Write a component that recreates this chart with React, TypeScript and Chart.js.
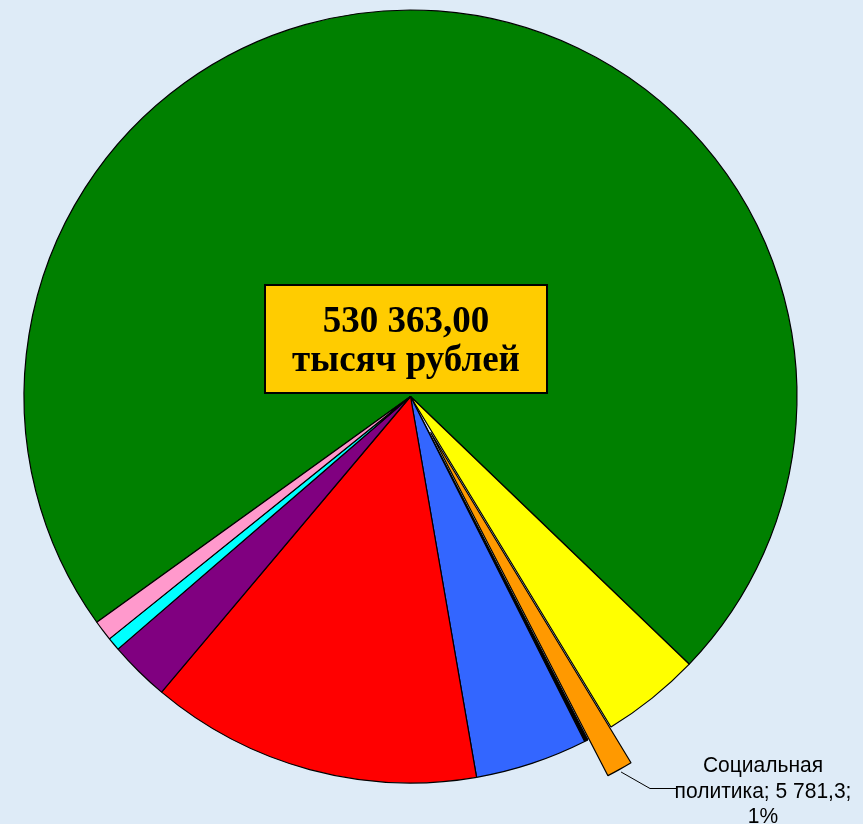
import React, { useEffect, useRef } from "react";
import { Chart, registerables } from "chart.js";

Chart.register(...registerables);

const categories = [
  "Образование",
  "Общегосударственные вопросы",
  "Социальная политика",
  "Средства массовой информации",
  "Национальная экономика",
  "Жилищно-коммунальное хозяйство",
  "Культура",
  "Национальная безопасность",
  "Физическая культура и спорт",
];
const values = [382417, 21981, 5781.3, 795, 24948, 73572, 13401, 2913, 4555];
const colors = ["#008000", "#FFFF00", "#FF9900", "#000000", "#3366FF", "#FF0000", "#800080", "#00FFFF", "#FF99CC"];
const explode = [0, 0, 41, 0, 0, 0, 0, 0, 0];
const totalLines = ["530 363,00", "тысяч рублей"];
const labelLines = ["Социальная", "политика; 5 781,3;", "1%"];
const labelIndex = 2;

const BG = "#DEEBF7";

const explodePlugin = {
  id: "explode",
  afterDatasetUpdate(chart: any, args: any) {
    const meta = chart.getDatasetMeta(args.index);
    meta.data.forEach((arc: any, i: number) => {
      const e = explode[i] || 0;
      if (!e) return;
      const mid = (arc.startAngle + arc.endAngle) / 2;
      arc.x += Math.cos(mid) * e;
      arc.y += Math.sin(mid) * e;
    });
  },
};

const overlayPlugin = {
  id: "overlay",
  afterDatasetsDraw(chart: any) {
    const ctx = chart.ctx as CanvasRenderingContext2D;
    const meta = chart.getDatasetMeta(0);
    const arc = meta.data[labelIndex] as any;

    // Center total box
    ctx.save();
    const bx = 265, by = 285, bw = 282, bh = 108;
    ctx.fillStyle = "#FFCC00";
    ctx.fillRect(bx, by, bw, bh);
    ctx.lineWidth = 2;
    ctx.strokeStyle = "#000000";
    ctx.strokeRect(bx, by, bw, bh);
    ctx.fillStyle = "#000000";
    ctx.font = "bold 37px 'Liberation Serif', 'Times New Roman', serif";
    ctx.textAlign = "center";
    ctx.textBaseline = "alphabetic";
    ctx.fillText(totalLines[0], bx + bw / 2, 332);
    ctx.fillText(totalLines[1], bx + bw / 2, 371);
    ctx.restore();

    // Leader line for label
    const mid = (arc.startAngle + arc.endAngle) / 2;
    const dist = arc.outerRadius + 3;
    const sx = arc.x + Math.cos(mid) * dist;
    const sy = arc.y + Math.sin(mid) * dist;
    ctx.save();
    ctx.strokeStyle = "#000000";
    ctx.lineWidth = 1;
    ctx.beginPath();
    ctx.moveTo(sx, sy);
    ctx.lineTo(650, 788.5);
    ctx.lineTo(676, 788.5);
    ctx.stroke();

    ctx.fillStyle = "#000000";
    ctx.font = "22px 'Liberation Sans', Arial, sans-serif";
    ctx.textAlign = "center";
    ctx.textBaseline = "alphabetic";
    const lx = 763;
    const sc = 0.955;
    ctx.translate(lx, 0);
    ctx.scale(sc, 1);
    ctx.fillText(labelLines[0], 0, 772);
    ctx.fillText(labelLines[1], 0, 798);
    ctx.fillText(labelLines[2], 0, 823);
    ctx.restore();
  },
};

export default function App() {
  const ref = useRef<HTMLCanvasElement>(null);
  useEffect(() => {
    if (!ref.current) return;
    const chart = new Chart(ref.current, {
      type: "pie",
      data: {
        labels: categories,
        datasets: [
          {
            data: values,
            backgroundColor: colors,
            borderColor: "#000000",
            borderWidth: 1.2,
          },
        ],
      },
      options: {
        animation: false,
        responsive: false,
        rotation: 234.26,
        radius: 386.5,
        layout: { padding: { left: 24, top: 10, right: 66, bottom: 41 } },
        plugins: {
          legend: { display: false },
          tooltip: { enabled: false },
        },
        events: [],
      } as any,
      plugins: [explodePlugin, overlayPlugin],
    });
    return () => chart.destroy();
  }, []);
  return (
    <div style={{ position: "fixed", left: 0, top: 0, width: 863, height: 824, background: BG }}>
      <canvas ref={ref} width={863} height={824} style={{ display: "block" }} />
    </div>
  );
}
